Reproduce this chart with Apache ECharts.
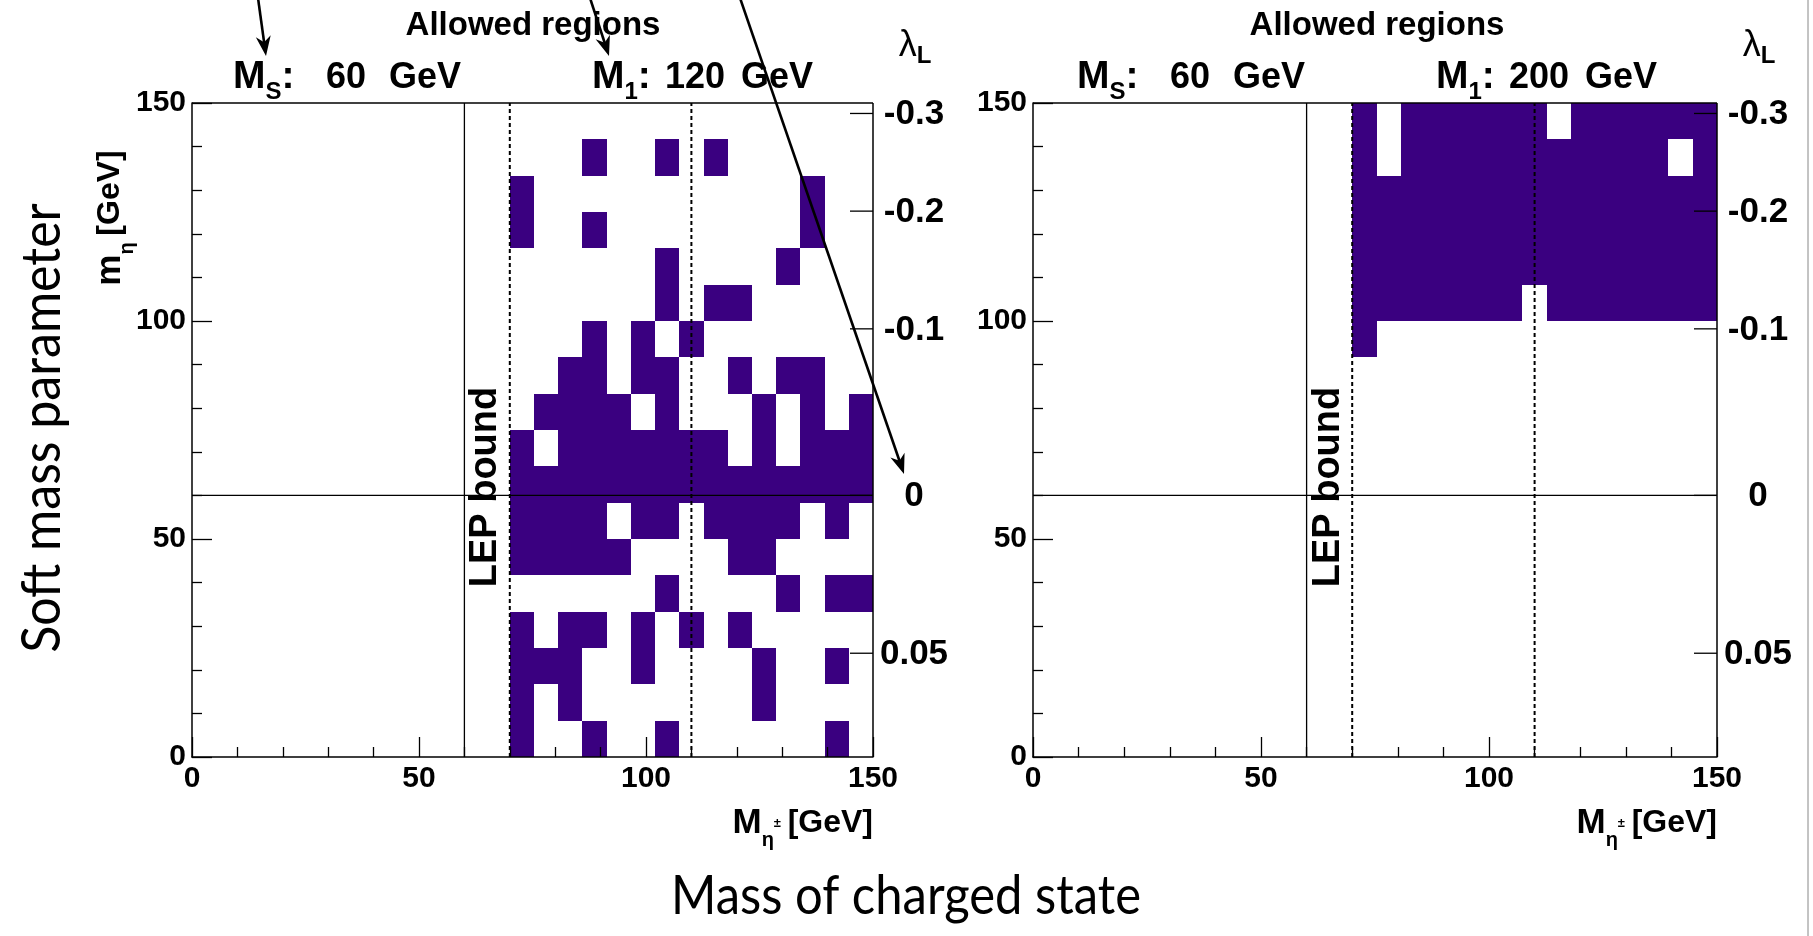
<!DOCTYPE html>
<html><head><meta charset="utf-8">
<script src="https://cdn.jsdelivr.net/npm/echarts@6/dist/echarts.min.js"></script>
<style>html,body{margin:0;padding:0;background:#fff}#c{width:1813px;height:936px}</style>
</head><body><div id="c"></div>
<script>
// ---------------- data ----------------
const xTickValues = [0, 50, 100, 150];
const yTickValues = [0, 50, 100, 150];
// histogram binning of the scan (M_eta+- from 70 to 150 GeV in 15 bins, m_eta 0..150 in 18 bins)
const binX0 = 70, binX1 = 150, nBinsX = 15;
const binY0 = 0, binY1 = 150, nBinsY = 18;
// allowed cells: one list of column indices per row, row 0 = bottom
const allowedLeft = [
  [0, 3, 6, 13],
  [0, 2, 10],
  [0, 1, 2, 5, 10, 13],
  [0, 2, 3, 5, 7, 9],
  [6, 11, 13, 14],
  [0, 1, 2, 3, 4, 9, 10],
  [0, 1, 2, 3, 5, 6, 8, 9, 10, 11, 13],
  [0, 1, 2, 3, 4, 5, 6, 7, 8, 9, 10, 11, 12, 13, 14],
  [0, 2, 3, 4, 5, 6, 7, 8, 10, 12, 13, 14],
  [1, 2, 3, 4, 6, 10, 12, 14],
  [2, 3, 5, 6, 9, 11, 12],
  [3, 5, 7],
  [6, 8, 9],
  [6, 11],
  [0, 3, 12],
  [0, 12],
  [3, 6, 8],
  []
];
const allowedRight = [
  [], [], [], [], [], [], [], [], [], [], [],
  [0],
  [0, 1, 2, 3, 4, 5, 6, 8, 9, 10, 11, 12, 13, 14],
  [0, 1, 2, 3, 4, 5, 6, 7, 8, 9, 10, 11, 12, 13, 14],
  [0, 1, 2, 3, 4, 5, 6, 7, 8, 9, 10, 11, 12, 13, 14],
  [0, 1, 2, 3, 4, 5, 6, 7, 8, 9, 10, 11, 12, 13, 14],
  [0, 2, 3, 4, 5, 6, 7, 8, 9, 10, 11, 12, 14],
  [0, 2, 3, 4, 5, 6, 7, 9, 10, 11, 12, 13, 14]
];
// lambda_L secondary scale: label and the m_eta value it sits at
const lambdaLabels = ['-0.3', '-0.2', '-0.1', '0', '0.05'];
const lambdaMass = [147.6, 125.2, 98.2, 60, 23.8];
// reference lines
const msLine = [60];          // M_S (vertical solid) and m_eta = M_S (horizontal)
const lepLines = [70, 110];   // dashed lines
const panelTitles = ['Allowed regions', 'Allowed regions'];
const msValues = ['60', '60'];
const m1Values = ['120', '200'];

// ---------------- style / layout ----------------
const CELL = '#3a0080';
const FONT = '"Liberation Sans", Arial, sans-serif';
const GILL = 'Lato, "Open Sans", sans-serif';
const gridTop = 103, gridH = 654;
const panels = [
  { left: 192, width: 681, dx: 0, allowed: allowedLeft },
  { left: 1033, width: 684, dx: 844, allowed: allowedRight }
];

function cellData(allowed) {
  const bw = (binX1 - binX0) / nBinsX, bh = (binY1 - binY0) / nBinsY;
  const out = [];
  allowed.forEach((cols, r) => cols.forEach(c =>
    out.push([binX0 + c * bw, binX0 + (c + 1) * bw, binY0 + r * bh, binY0 + (r + 1) * bh])));
  return out;
}
function renderCell(params, api) {
  const a = api.coord([api.value(0), api.value(3)]);
  const b = api.coord([api.value(1), api.value(2)]);
  const x0 = Math.round(a[0]), y0 = Math.round(a[1]), x1 = Math.round(b[0]), y1 = Math.round(b[1]);
  return { type: 'rect', shape: { x: x0, y: y0, width: x1 - x0, height: y1 - y0 }, style: { fill: CELL } };
}
// guide data: [kind(0=vertical,1=horizontal), value, dashed, width]
function guideData() {
  const d = [];
  msLine.forEach(v => { d.push([0, v, 0, 1.3]); d.push([1, v, 0, 1.3]); });
  lepLines.forEach(v => d.push([0, v, 1, 2]));
  d.push([1, 150, 0, 1.5]); d.push([0, 150, 0, 1.5]);
  return d;
}
function renderGuide(params, api) {
  const kind = api.value(0), v = api.value(1), dashed = api.value(2), w = api.value(3);
  let p, q;
  if (kind === 0) { p = api.coord([v, 0]); q = api.coord([v, 150]); }
  else { p = api.coord([0, v]); q = api.coord([150, v]); }
  return { type: 'line', shape: { x1: p[0], y1: p[1], x2: q[0], y2: q[1] },
    style: { stroke: '#000', lineWidth: w, lineDash: dashed ? [4, 3] : null } };
}
function renderLambda(params, api) {
  const p = api.coord([api.value(0), api.value(1)]);
  const i = api.value(2);
  return { type: 'group', children: [
    { type: 'line', shape: { x1: p[0] - 23, y1: p[1], x2: p[0], y2: p[1] }, style: { stroke: '#000', lineWidth: 1.3 } },
    { type: 'text', x: p[0] + 41, y: p[1] + 1, style: { text: lambdaLabels[i], fontSize: 35, fontWeight: 'bold',
      fontFamily: FONT, fill: '#000', align: 'center', verticalAlign: 'middle' } }
  ] };
}

const grids = [], xAxes = [], yAxes = [], series = [];
panels.forEach((p, gi) => {
  grids.push({ left: p.left, top: gridTop, width: p.width, height: gridH, show: false, outerBoundsMode: 'none' });
  const axisCommon = {
    gridIndex: gi, type: 'value', min: 0, max: 150, interval: 50, z: 10,
    axisLine: { show: true, onZero: false, lineStyle: { color: '#000', width: 1.5 } },
    axisTick: { show: true, inside: true, length: 20, lineStyle: { color: '#000', width: 1.3 } },
    minorTick: { show: true, splitNumber: 5, length: 10, lineStyle: { color: '#000', width: 1.3 } },
    splitLine: { show: false }, minorSplitLine: { show: false }
  };
  xAxes.push(Object.assign({}, axisCommon, {
    axisLabel: { fontFamily: FONT, fontWeight: 'bold', fontSize: 30, color: '#000', margin: 7 }
  }));
  yAxes.push(Object.assign({}, axisCommon, {
    axisLabel: { fontFamily: FONT, fontWeight: 'bold', fontSize: 30, color: '#000', margin: 6 }
  }));
  series.push({ type: 'custom', xAxisIndex: gi, yAxisIndex: gi, z: 2, silent: true,
    renderItem: renderCell, encode: { x: [0, 1], y: [2, 3] }, data: cellData(p.allowed) });
  series.push({ type: 'custom', xAxisIndex: gi, yAxisIndex: gi, z: 5, silent: true,
    renderItem: renderGuide, encode: { x: 1, y: 1 }, data: guideData() });
  series.push({ type: 'custom', xAxisIndex: gi, yAxisIndex: gi, z: 6, silent: true, clip: false,
    renderItem: renderLambda, encode: { x: 0, y: 1 }, data: lambdaMass.map((m, i) => [150, m, i]) });
});

// ---------------- annotations ----------------
const g = [];
function txt(x, y, text, opt) {
  g.push(Object.assign({ type: 'text', x: x, y: y, z: 50, silent: true,
    style: Object.assign({ text: text, fill: '#000', fontFamily: FONT, fontWeight: 'bold',
      align: 'left', verticalAlign: 'middle' }, opt.style || {}) }, opt.el || {}));
}
const subRich = (big, small) => ({
  m: { fontSize: big, fontWeight: 'bold', fontFamily: FONT, lineHeight: 54 },
  s: { fontSize: small, fontWeight: 'bold', fontFamily: FONT, lineHeight: small + 2, verticalAlign: 'bottom' },
  t: { fontSize: 13, fontWeight: 'bold', fontFamily: FONT, lineHeight: 54, verticalAlign: 'middle' },
  n: { fontSize: 32, fontWeight: 'bold', fontFamily: FONT, lineHeight: 54 },
  g: { fontSize: 24, fontFamily: FONT, lineHeight: 54 }
});
panels.forEach((p, i) => {
  const dx = p.dx;
  txt(533 + dx, 26, panelTitles[i], { style: { fontSize: 33, align: 'center' } });
  txt(233 + dx, 77, '{m|M}{s|S}{m|:}', { style: { rich: subRich(39, 24) } });
  txt(326 + dx, 78, msValues[i], { style: { fontSize: 36 } });
  txt(389 + dx, 78, 'GeV', { style: { fontSize: 36 } });
  txt(592 + dx, 77, '{m|M}{s|1}{m|:}', { style: { rich: subRich(39, 24) } });
  txt(665 + dx, 78, m1Values[i], { style: { fontSize: 36 } });
  txt(741 + dx, 78, 'GeV', { style: { fontSize: 36 } });
  txt(915 + dx, 46, '{m|λ}{s|L}', { style: { align: 'center', rich: {
    m: { fontSize: 36, fontFamily: FONT, lineHeight: 44 },
    s: { fontSize: 24, fontWeight: 'bold', fontFamily: FONT, lineHeight: 24, verticalAlign: 'bottom' } } } });
  // x axis title
  txt(p.left + p.width, 823, '{m|M}{s|η}{t|±}{g| }{n|[GeV]}', { style: { align: 'right', rich: subRich(35, 20) } });
  // LEP bound
  txt(p.left + 294 + (i ? 2 : 0), 487, 'LEP bound', { style: { fontSize: 38, align: 'center' }, el: { rotation: Math.PI / 2 } });
});
// y axis title (left panel only)
txt(110, 218, '{m|m}{s|η}{g| }{n|[GeV]}', { style: { align: 'center', rich: subRich(35, 20) }, el: { rotation: Math.PI / 2 } });
// big slide labels
txt(42, 428, 'Soft mass parameter', { style: { fontFamily: GILL, fontWeight: 'normal', fontSize: 55, align: 'center' }, el: { rotation: Math.PI / 2, scaleX: 0.91 } });
txt(906, 896, 'Mass of charged state', { style: { fontFamily: GILL, fontWeight: 'normal', fontSize: 55, align: 'center' }, el: { scaleX: 0.89 } });
// arrows
function arrow(x1, y1, x2, y2) {
  const dx = x2 - x1, dy = y2 - y1, L = Math.hypot(dx, dy), ux = dx / L, uy = dy / L, px = -uy, py = ux;
  const hl = 20, hw = 7.5, notch = 14;
  g.push({ type: 'line', z: 60, silent: true, shape: { x1: x1, y1: y1, x2: x2 - ux * 10, y2: y2 - uy * 10 },
    style: { stroke: '#000', lineWidth: 2.6 } });
  g.push({ type: 'polygon', z: 60, silent: true, shape: { points: [[x2, y2],
    [x2 - ux * hl + px * hw, y2 - uy * hl + py * hw], [x2 - ux * notch, y2 - uy * notch],
    [x2 - ux * hl - px * hw, y2 - uy * hl - py * hw]] }, style: { fill: '#000' } });
}
arrow(258, -2, 266, 56);
arrow(590, -2, 609, 56);
arrow(740, -2, 904, 474);
// slide border at right edge
g.push({ type: 'line', z: 1, silent: true, shape: { x1: 1808, y1: 0, x2: 1808, y2: 936 }, style: { stroke: '#888', lineWidth: 1 } });

const chart = echarts.init(document.getElementById('c'), null, { renderer: 'canvas', width: 1813, height: 936 });
chart.setOption({
  animation: false,
  backgroundColor: '#fff',
  grid: grids, xAxis: xAxes, yAxis: yAxes, series: series,
  graphic: { elements: g }
});
</script>
</body></html>
